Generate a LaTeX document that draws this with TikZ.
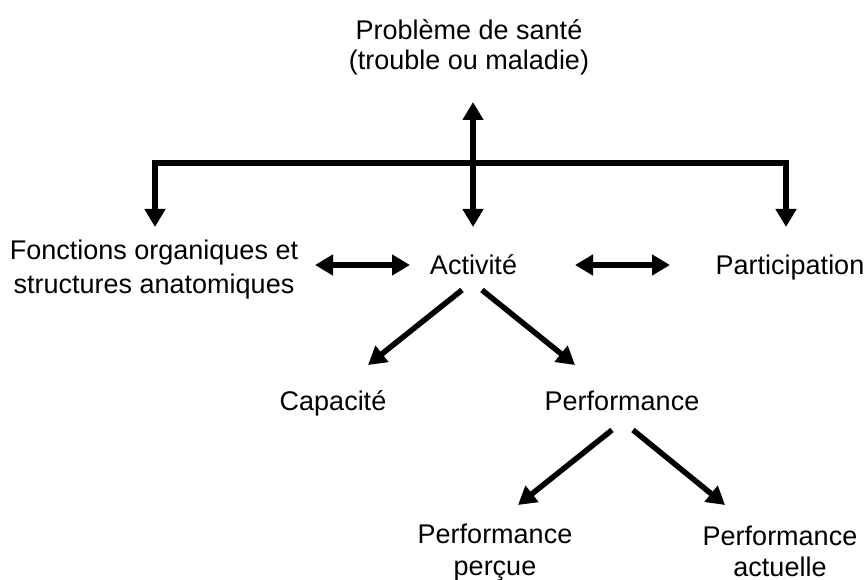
\documentclass[tikz,border=0pt]{standalone}
\usepackage{fontspec}
\setmainfont{Liberation Sans}
\usetikzlibrary{arrows.meta}
\tikzset{
  lbl/.style={inner sep=0pt, align=center, font=\fontsize{27}{32}\selectfont},
  conn/.style={line width=5.5pt, -{Triangle[width=20pt,length=18pt]}},
  dbl/.style={line width=5.5pt, {Triangle[width=20pt,length=18pt]}-{Triangle[width=20pt,length=18pt]}},
}
\begin{document}
\begin{tikzpicture}[x=1pt,y=-1pt]
\useasboundingbox (0,0) rectangle (865,580);
\node[lbl, font=\fontsize{27}{30}\selectfont] (top) at (469,49) {\strut Problème de santé\\\strut (trouble ou maladie)};
\node[lbl, font=\fontsize{27}{34}\selectfont] (fonc) at (154,270.2) {\strut Fonctions organiques et\\\strut structures anatomiques};
\node[lbl] (act) at (473.5,267.6) {\strut Activité};
\node[lbl] (part) at (790,268.6) {\strut Participation};
\node[lbl] (cap) at (333,403.6) {\strut Capacité};
\node[lbl] (perf) at (622,403.6) {\strut Performance};
\node[lbl] (perc) at (495,552.6) {\strut Performance\\\strut perçue};
\node[lbl, font=\fontsize{27}{31}\selectfont] (actu) at (780,550.6) {\strut Performance\\actuelle};
% vertical double arrow
\draw[dbl] ([shift={(4,53)}]top.center) -- ([shift={(-0.5,-40.6)}]act.center);
% bar with two drops
\draw[dbl, line join=miter] ([shift={(1,-43.2)}]fonc.center) |- ([shift={(-4,-105.6)}]part.center) -- ([shift={(-4,-41.6)}]part.center);
% horizontal double arrows
\draw[dbl] ([shift={(161,-5.2)}]fonc.center) -- ([shift={(-63.5,-2.6)}]act.center);
\draw[dbl] ([shift={(101.5,-2.6)}]act.center) -- ([shift={(-120,-3.6)}]part.center);
% diagonals
\draw[conn] ([shift={(-11.5,22.4)}]act.center) -- ([shift={(35,-38.6)}]cap.center);
\draw[conn] ([shift={(8.5,22.4)}]act.center) -- ([shift={(-47,-38.6)}]perf.center);
\draw[conn] ([shift={(-10,26.4)}]perf.center) -- ([shift={(23,-47.6)}]perc.center);
\draw[conn] ([shift={(11,26.4)}]perf.center) -- ([shift={(-55,-45.6)}]actu.center);
\end{tikzpicture}
\end{document}
